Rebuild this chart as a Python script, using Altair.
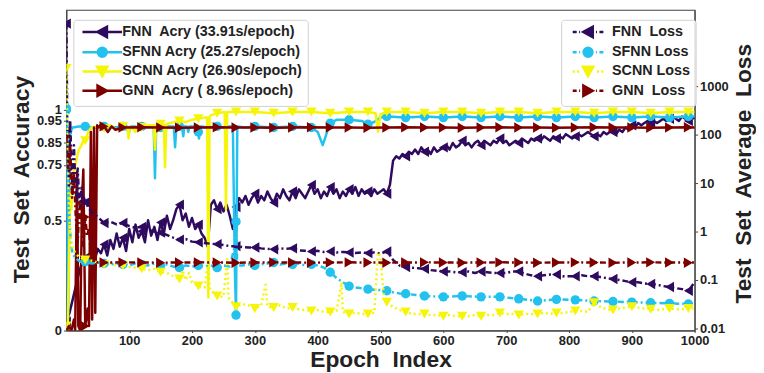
import altair as alt
import pandas as pd

NB = "\u00a0"
FONT = "Liberation Sans"
INK = "#222222"

ACC_NAMES = [f"FNN{NB} Acry (33.91s/epoch)", "SFNN Acry (25.27s/epoch)",
             "SCNN Acry (26.90s/epoch)", f"GNN{NB} Acry ({NB}8.96s/epoch)"]
LOSS_NAMES = [f"FNN{NB} Loss", "SFNN Loss", "SCNN Loss", f"GNN{NB} Loss"]

X_TICKS = [100, 200, 300, 400, 500, 600, 700, 800, 900, 1000]
ACC_TICKS = [0, 0.5, 0.75, 0.85, 0.95, 1]
LOSS_TICKS = [0.01, 0.1, 1, 10, 100, 1000]

# ---------------- accuracy series ----------------
FNN_ACC_EPOCH = list(range(0, 1001, 5))
FNN_ACC = [
    0.04, 0.08, 0.14, 0.20, 0.26, 0.31,
    0.33, 0.30, 0.36, 0.32, 0.37, 0.35,
    0.39, 0.34, 0.41, 0.37, 0.44, 0.38,
    0.42, 0.36, 0.46, 0.40, 0.48, 0.42,
    0.45, 0.40, 0.50, 0.43, 0.47, 0.41,
    0.49, 0.44, 0.52, 0.46, 0.50, 0.55,
    0.57, 0.50, 0.53, 0.47, 0.51, 0.46,
    0.48, 0.44, 0.42, 0.38, 0.57, 0.59,
    0.55, 0.58, 0.54, 0.57, 0.52, 0.46,
    0.56, 0.60, 0.58, 0.61, 0.57, 0.60,
    0.62, 0.58, 0.61, 0.59, 0.63, 0.60,
    0.58, 0.62, 0.60, 0.64, 0.61, 0.59,
    0.63, 0.60, 0.64, 0.62, 0.60, 0.63,
    0.66, 0.62, 0.64, 0.60, 0.63, 0.61,
    0.65, 0.62, 0.64, 0.60, 0.63, 0.61,
    0.64, 0.62, 0.65, 0.61, 0.64, 0.62,
    0.63, 0.61, 0.64, 0.62, 0.63, 0.64,
    0.62, 0.66, 0.77, 0.79, 0.78, 0.80,
    0.79, 0.81, 0.80, 0.82, 0.80, 0.83,
    0.81, 0.82, 0.80, 0.83, 0.81, 0.82,
    0.83, 0.84, 0.82, 0.85, 0.83, 0.84,
    0.86, 0.84, 0.85, 0.83, 0.85, 0.86,
    0.84, 0.86, 0.85, 0.84, 0.86, 0.85,
    0.87, 0.85, 0.86, 0.84, 0.85, 0.86,
    0.85, 0.87, 0.86, 0.85, 0.87, 0.86,
    0.87, 0.86, 0.88, 0.87, 0.86, 0.88,
    0.87, 0.88, 0.87, 0.89, 0.88, 0.87,
    0.88, 0.89, 0.88, 0.89, 0.90, 0.89,
    0.88, 0.89, 0.88, 0.90, 0.89, 0.90,
    0.90, 0.89, 0.91, 0.90, 0.92, 0.91,
    0.93, 0.92, 0.94, 0.93, 0.94, 0.95,
    0.94, 0.95, 0.94, 0.95, 0.96, 0.95,
    0.96, 0.97, 0.96, 0.95, 0.97, 0.96,
    0.95, 0.97, 0.96,
]

SFNN_ACC_EPOCH = [0, 1, 2, 3, 4, 5, 6, 8, 10, 20,
                  30, 45, 60, 75, 90, 100, 102, 120, 139, 141,
                  143, 150, 155, 157, 159, 171, 173, 175, 180, 184,
                  186, 188, 192, 194, 196, 208, 210, 211, 214, 225, 240,
                  250, 255, 265, 268, 270, 272, 285, 300, 330, 360,
                  390, 400, 408, 415, 420, 430, 450, 470, 480, 490,
                  500, 510, 540, 570, 600, 630, 660, 690, 720, 750,
                  780, 810, 840, 870, 900, 930, 960, 990, 1000]
SFNN_ACC = [1.0, 0.6, 0.02, 0.1, 0.55, 0.8, 0.88, 0.91, 0.92, 0.925,
            0.925, 0.92, 0.925, 0.92, 0.925, 0.9, 0.925, 0.925, 0.925, 0.69,
            0.925, 0.92, 0.925, 0.86, 0.925, 0.925, 0.83, 0.925, 0.925, 0.925,
            0.88, 0.925, 0.925, 0.9, 0.925, 0.925, 0.9, 0.87, 0.925, 0.92, 0.925,
            0.92, 0.925, 0.925, 0.3, 0.07, 0.925, 0.92, 0.925, 0.92, 0.925,
            0.92, 0.9, 0.84, 0.9, 0.94, 0.955, 0.955, 0.95, 0.935, 0.945,
            0.965, 0.97, 0.965, 0.97, 0.965, 0.97, 0.965, 0.97, 0.965, 0.97,
            0.965, 0.97, 0.965, 0.97, 0.965, 0.97, 0.965, 0.97, 0.97]

SCNN_ACC_EPOCH = [0, 2, 4, 6, 8, 10, 12, 15, 18, 20,
                  24, 27, 30, 35, 40, 50, 60, 70, 80, 90,
                  97, 99, 101, 110, 112, 120, 130, 139, 141, 143,
                  150, 155, 157, 159, 165, 180, 190, 200, 210, 220,
                  224, 226, 228, 230, 240, 252, 254, 256, 270, 300,
                  330, 360, 390, 420, 450, 480, 492, 496, 500, 510,
                  540, 570, 600, 630, 660, 690, 720, 750, 780, 810,
                  840, 870, 900, 930, 960, 990, 1000]
SCNN_ACC = [0.02, 0.0, 0.3, 0.62, 0.55, 0.68, 0.72, 0.76, 0.8, 0.82,
            0.84, 0.86, 0.86, 0.9, 0.92, 0.925, 0.915, 0.93, 0.91, 0.925,
            0.92, 0.87, 0.925, 0.9, 0.925, 0.92, 0.93, 0.93, 0.82, 0.93,
            0.935, 0.935, 0.74, 0.935, 0.94, 0.95, 0.945, 0.955, 0.96, 0.965,
            0.965, 0.15, 0.97, 0.975, 0.985, 0.99, 0.55, 0.99, 0.99, 0.99,
            0.985, 0.99, 0.99, 0.985, 0.99, 0.99, 0.985, 0.9, 0.98, 0.99,
            0.99, 0.985, 0.99, 0.99, 0.985, 0.99, 0.99, 0.985, 0.99, 0.99,
            0.985, 0.99, 0.99, 0.985, 0.99, 0.99, 0.99]

GNN_ACC_EPOCH = ([0, 4, 8, 12, 14, 17, 19, 22, 25, 27, 30, 34, 36, 39, 41, 44,
                  46, 49, 51, 54, 58, 60, 66, 72, 78]
                 + [90, 120, 150, 180, 210, 240, 270, 300, 330, 360, 390,
                    420, 450, 480, 510, 540, 570, 600, 630, 660, 690, 720,
                    750, 780, 810, 840, 870, 900, 930, 960, 990, 1000])
GNN_ACC = [0.0, 0.02, 0.0, 0.05, 0.0, 0.72, 0.02, 0.0, 0.6, 0.73, 0.02, 0.1,
           0.02, 0.9, 0.05, 0.92, 0.08, 0.93, 0.92, 0.93, 0.92, 0.925, 0.9,
           0.925, 0.91,
           0.92, 0.921, 0.92, 0.919, 0.92, 0.921, 0.92, 0.92, 0.919, 0.92, 0.921,
           0.92, 0.92, 0.919, 0.92, 0.921, 0.92, 0.92, 0.919, 0.92, 0.921, 0.92,
           0.92, 0.919, 0.92, 0.921, 0.92, 0.92, 0.919, 0.92, 0.921, 0.92]

# ---------------- loss series ----------------
FNN_LOSS_EPOCH = [0, 1, 2, 3, 4, 6, 8, 10, 12, 14, 16, 18, 20, 22, 24, 26, 28, 30] + list(range(40, 1001, 10))
FNN_LOSS = [19500, 800, 20, 150, 8, 200, 30, 6, 60, 12, 4, 20, 6, 3, 8, 4, 5, 4,
            2.5, 2.0, 1.5, 1.6, 1.4, 1.5, 1.3, 1.2, 1.25, 1.1,
            1.0, 0.95, 0.85, 0.75, 0.68, 0.7, 0.62, 0.6, 0.58, 0.56,
            0.55, 0.53, 0.5, 0.5, 0.48, 0.47, 0.47, 0.45, 0.44, 0.43,
            0.45, 0.44, 0.45, 0.41, 0.4, 0.39, 0.4, 0.38, 0.39, 0.37,
            0.38, 0.37, 0.36, 0.37, 0.36, 0.37, 0.35, 0.39, 0.26, 0.2,
            0.185, 0.18, 0.175, 0.17, 0.16, 0.155, 0.15, 0.15, 0.145, 0.145,
            0.15, 0.14, 0.15, 0.145, 0.14, 0.14, 0.14, 0.15, 0.15, 0.135,
            0.125, 0.12, 0.125, 0.13, 0.13, 0.12, 0.12, 0.12, 0.125, 0.12,
            0.12, 0.115, 0.11, 0.105, 0.1, 0.095, 0.09, 0.09, 0.085, 0.083,
            0.08, 0.075, 0.072, 0.068, 0.065, 0.06, 0.09]

SFNN_LOSS_EPOCH = ([0, 2, 4, 6, 8, 10, 15, 20, 25]
                   + list(range(30, 261, 10)) + [268, 270, 272]
                   + list(range(280, 541, 10)) + list(range(570, 991, 30)) + [1000])
SFNN_LOSS = [350, 30, 3.0, 1.0, 0.5, 0.35, 0.28, 0.25, 0.23,
             0.24, 0.22, 0.23, 0.22, 0.21, 0.22, 0.21, 0.2, 0.22, 0.21, 0.2, 0.22,
             0.2, 0.21, 0.19, 0.18, 0.2, 0.19, 0.2, 0.19, 0.2, 0.18, 0.2, 0.19,
             0.5, 1.6, 0.2,
             0.2, 0.21, 0.2, 0.21, 0.22, 0.23, 0.21, 0.22, 0.21, 0.22, 0.2, 0.21,
             0.2, 0.18, 0.145, 0.11, 0.09, 0.075, 0.07, 0.068, 0.065, 0.063,
             0.062, 0.06, 0.056, 0.053, 0.052,
             0.047, 0.045, 0.047, 0.045, 0.045, 0.041, 0.037, 0.04, 0.039, 0.037,
             0.036, 0.035, 0.034, 0.033, 0.032,
             0.032]

SCNN_LOSS_EPOCH = ([0, 2, 4, 6, 8, 10, 15, 20,
                    30, 40, 50, 60, 70, 80, 90, 100, 110, 120, 130, 140, 150, 160,
                    170, 180, 185, 190, 195, 200, 210, 220, 226, 228, 230, 240, 250,
                    256, 258, 260, 270, 280, 290, 300, 310, 317, 320, 330, 340, 350,
                    360, 370, 380, 390, 400, 410, 420, 430, 438, 440, 450, 460, 470,
                    480, 490, 496, 500, 505, 510, 520, 530]
                   + list(range(540, 1001, 10)))
SCNN_LOSS = [2300, 50, 3.0, 1.0, 0.6, 0.45, 0.35, 0.3,
             0.26, 0.25, 0.23, 0.21, 0.22, 0.2, 0.2, 0.19, 0.18, 0.17, 0.16, 0.17, 0.145, 0.14,
             0.12, 0.105, 0.16, 0.1, 0.14, 0.09, 0.075, 0.07, 0.28, 0.07, 0.06, 0.047, 0.045,
             0.27, 0.045, 0.04, 0.028, 0.032, 0.03, 0.026, 0.03, 0.08, 0.028, 0.027, 0.03, 0.026,
             0.027, 0.025, 0.024, 0.023, 0.024, 0.022, 0.022, 0.023, 0.09, 0.022, 0.02, 0.021, 0.02,
             0.02, 0.021, 0.37, 0.3, 0.05, 0.035, 0.028, 0.024,
             0.022, 0.02, 0.02, 0.02, 0.019, 0.019, 0.018, 0.019, 0.018, 0.018,
             0.018, 0.019, 0.018, 0.019, 0.019, 0.021, 0.02, 0.02, 0.019, 0.02,
             0.02, 0.02, 0.021, 0.02, 0.021, 0.021, 0.022, 0.023, 0.023, 0.022,
             0.034, 0.028, 0.025, 0.024, 0.026, 0.027, 0.028, 0.027, 0.026, 0.025,
             0.024, 0.025, 0.026, 0.025, 0.025, 0.026, 0.026]

GNN_LOSS_EPOCH = ([0, 3, 6, 9, 12, 15, 18, 21, 24, 27, 30, 33, 36, 39, 42, 45, 50]
                  + list(range(60, 991, 30)) + [1000])
GNN_LOSS = [90, 20, 60, 5, 15, 2, 0.6, 4, 1.5, 0.5, 2, 0.8, 1.2, 0.3, 0.5, 0.25, 0.23,
            0.23, 0.232, 0.23, 0.228, 0.23, 0.232, 0.23, 0.228, 0.23, 0.232, 0.23,
            0.228, 0.23, 0.232, 0.23, 0.228, 0.23, 0.232, 0.23, 0.228, 0.23, 0.232,
            0.23, 0.228, 0.23, 0.232, 0.23, 0.228, 0.23, 0.232, 0.23, 0.228,
            0.23]

# ---------------- styles ----------------
COLORS = ["#2e0b5e", "#22c1ee", "#f5f50a", "#7d0000"]
MARKERS = ["triangle-left", "circle", "triangle-down", "triangle-right"]
MARKER_SIZES = [110, 90, 110, 110]
LOSS_DASH = [[6, 3, 2, 3], [6, 3, 2, 3], [2, 3], [6, 3, 2, 3]]

TL = "M-0.95,0L0.95,-1.05L0.95,1.05Z"
CI = "M-0.9,0A0.9,0.9,0,1,0,0.9,0A0.9,0.9,0,1,0,-0.9,0Z"
TD = "M-1.05,-0.95L1.05,-0.95L0,0.95Z"
TR = "M0.95,0L-0.95,-1.05L-0.95,1.05Z"
ACC_LINE = "M-4,0H4"
DD = "M-3.1,0H-2.3M-1.8,0H-1.6M1.6,0H1.8M2.3,0H3.1"
DT = "M-3.1,0H-2.7M-2.2,0H-1.8M1.8,0H2.2M2.7,0H3.1"
ACC_SYMBOLS = [ACC_LINE + TL, ACC_LINE + CI, ACC_LINE + TD, ACC_LINE + TR]
LOSS_SYMBOLS = [DD + TL, DD + CI, DT + TD, DD + TR]


def build(names, pairs):
    rows = []
    for name, (ep, val) in zip(names, pairs):
        assert len(ep) == len(val), (name, len(ep), len(val))
        for e, v in zip(ep, val):
            rows.append({"series": name, "epoch": e, "value": v})
    return pd.DataFrame(rows)


acc_df = build(ACC_NAMES, [(FNN_ACC_EPOCH, FNN_ACC), (SFNN_ACC_EPOCH, SFNN_ACC),
                           (SCNN_ACC_EPOCH, SCNN_ACC), (GNN_ACC_EPOCH, GNN_ACC)])
loss_df = build(LOSS_NAMES, [(FNN_LOSS_EPOCH, FNN_LOSS), (SFNN_LOSS_EPOCH, SFNN_LOSS),
                             (SCNN_LOSS_EPOCH, SCNN_LOSS), (GNN_LOSS_EPOCH, GNN_LOSS)])

label_style = dict(labelFont=FONT, labelFontSize=13, labelFontWeight="bold", labelColor=INK,
                   labelOverlap=False, labelFlush=False, tickColor="#444", domainColor="#444",
                   grid=False)
title_style = dict(titleFont=FONT, titleFontSize=23, titleFontWeight="bold", titleColor=INK,
                   titleBaseline="alphabetic")

x_enc = alt.X("epoch:Q", scale=alt.Scale(domain=[0, 1000], nice=False, zero=False),
              axis=alt.Axis(values=X_TICKS, format="d", title=f"Epoch{NB} Index", titleY=36,
                            tickSize=2, labelPadding=2, **label_style, **title_style))
y_acc = alt.Y("value:Q", scale=alt.Scale(domain=[0, 1.453], nice=False, zero=False),
              axis=alt.Axis(orient="left", values=ACC_TICKS, format=".2~f",
                            title=f"Test{NB} Set{NB} Accuracy", titleAngle=270,
                            titleX=-38.5, titleY=171, titleAlign="center",
                            tickSize=3, labelPadding=2, **label_style, **title_style))
y_loss = alt.Y("value:Q", scale=alt.Scale(type="log", domain=[0.0091, 37300], nice=False),
               axis=alt.Axis(orient="right", values=LOSS_TICKS, format="~g",
                             title=f"Test{NB} Set{NB} Average{NB} Loss", titleAngle=270,
                             titleX=56, titleY=165, titleAlign="center",
                             tickSize=3, labelPadding=2, **label_style, **title_style))


def legend(x, sym_offset, label_offset):
    return alt.Legend(title=None, orient="none", legendX=x, legendY=10, padding=5,
                      rowPadding=-0.5, symbolSize=100, symbolStrokeWidth=2.5,
                      symbolOffset=sym_offset, labelOffset=label_offset,
                      symbolStrokeColor=alt.ExprRef(expr="['" + "','".join(COLORS) + "'][datum.index]"),
                      labelFont=FONT, labelFontSize=14.5, labelFontWeight="bold",
                      labelColor=INK, labelLimit=400, strokeColor="#d0d0d0",
                      fillColor="rgba(255,255,255,0.85)", cornerRadius=3)


def group(df, names, y_enc, symbols, leg, dashes=None):
    layers = []
    for i, name in enumerate(names):
        base = alt.Chart(df).transform_filter(alt.datum.series == name)
        kw = dict(color=COLORS[i], strokeWidth=2.5, clip=True, strokeJoin="round")
        if dashes:
            kw["strokeDash"] = dashes[i]
        layers.append(base.mark_line(**kw).encode(x=x_enc, y=y_enc))
        layers.append(base.transform_filter("datum.epoch % 30 == 0")
                      .mark_point(shape=MARKERS[i], filled=True, size=MARKER_SIZES[i],
                                  color=COLORS[i], opacity=1, clip=True)
                      .encode(x=x_enc, y=y_enc))
    dummy = alt.Chart(pd.DataFrame({"series": names})).mark_point(
        filled=True, size=0, opacity=1).encode(
        color=alt.Color("series:N", scale=alt.Scale(domain=names, range=COLORS), legend=leg),
        shape=alt.Shape("series:N", scale=alt.Scale(domain=names, range=symbols), legend=leg),
    )
    layers.append(dummy)
    return alt.layer(*layers)


acc_group = group(acc_df, ACC_NAMES, y_acc, ACC_SYMBOLS, legend(7, 17, 13))
loss_group = group(loss_df, LOSS_NAMES, y_loss, LOSS_SYMBOLS, legend(500, 15, 17), LOSS_DASH)

chart = (alt.layer(acc_group, loss_group)
         .resolve_scale(y="independent", color="independent", shape="independent")
         .properties(width=635, height=324,
                     padding={"left": 59, "right": 62, "top": 0, "bottom": 41},
                     autosize=alt.AutoSizeParams(type="none"))
         .configure_view(stroke="#444", strokeWidth=1.2))

chart.save("out.html", embed_options={"renderer": "svg", "actions": False})
